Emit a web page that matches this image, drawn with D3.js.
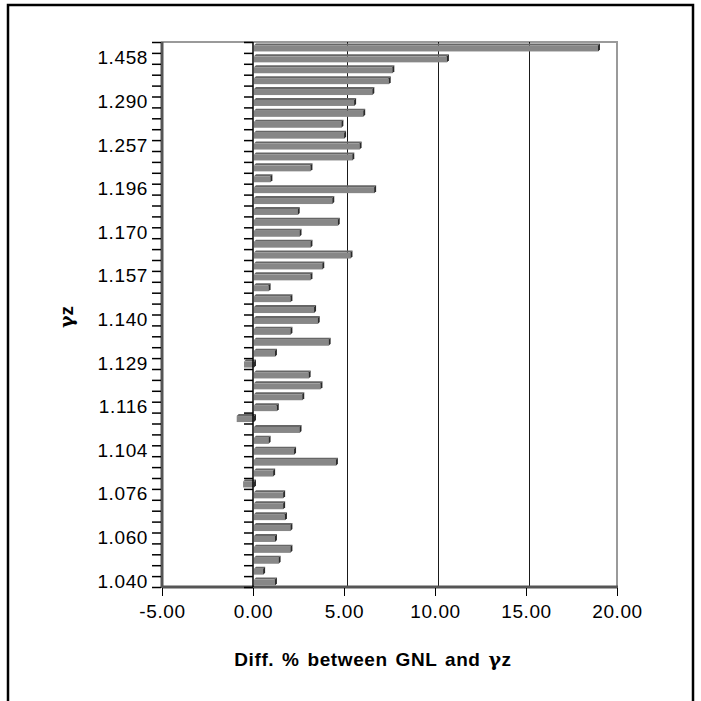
<!DOCTYPE html>
<html>
<head>
<meta charset="utf-8">
<script src="https://cdn.jsdelivr.net/npm/d3@7"></script>
<style>
  body { margin: 0; background: #fff; }
  text { font-family: "Liberation Sans", Arial, sans-serif; }
</style>
</head>
<body>
<svg id="chart"></svg>
<script>
// categories run bottom -> top, only every 4th one carries a label
const tickLabels = ["1.040", "1.060", "1.076", "1.104", "1.116", "1.129", "1.140",
  "1.157", "1.170", "1.196", "1.257", "1.290", "1.458"];
const labelEvery = 4;

// Diff. % between GNL and γz, bottom -> top
const diffValues = [1.15, 0.5, 1.35, 2.0, 1.15, 2.0, 1.7, 1.6, 1.6, -0.6,
  1.05, 4.5, 2.2, 0.8, 2.5, -0.95, 1.25, 2.65, 3.65, 3.0,
  -0.55, 1.15, 4.1, 2.0, 3.5, 3.3, 2.0, 0.8, 3.1, 3.75,
  5.3, 3.1, 2.5, 4.6, 2.4, 4.3, 6.6, 0.9, 3.1, 5.4,
  5.8, 4.95, 4.8, 6.0, 5.5, 6.5, 7.4, 7.6, 10.6, 18.9];

const xTicks = [-5, 0, 5, 10, 15, 20];

const categories = diffValues.map((v, i) => i);

// ===============================
// SETUP
// ===============================
const width = 701, height = 701;
const svg = d3.select("#chart").attr("width", width).attr("height", height);

const plot = { left: 162, right: 617, top: 42, bottom: 587 };

const x = d3.scaleLinear().domain([-5, 20]).range([plot.left, plot.right]);
const y = d3.scaleBand().domain(categories).range([plot.bottom, plot.top]);
const yEdge = d3.scaleLinear().domain([0, categories.length]).range([plot.bottom, plot.top]);

// outer frame
svg.append("rect")
  .attr("x", 8).attr("y", 5)
  .attr("width", 685).attr("height", 705)
  .attr("fill", "none")
  .attr("stroke", "#000")
  .attr("stroke-width", 2.5);

// plot area border
svg.append("rect")
  .attr("x", plot.left).attr("y", plot.top)
  .attr("width", plot.right - plot.left)
  .attr("height", plot.bottom - plot.top)
  .attr("fill", "#fff")
  .attr("stroke", "#9a9a9a")
  .attr("stroke-width", 2);

// ===============================
// GRIDLINES (back wall, shifted a bit)
// ===============================
const depth = 3;
svg.append("g")
  .selectAll("line")
  .data(xTicks.filter(d => d > 0 && d < 20))
  .join("line")
  .attr("x1", d => Math.round(x(d) + depth) + 0.5)
  .attr("x2", d => Math.round(x(d) + depth) + 0.5)
  .attr("y1", plot.top).attr("y2", plot.bottom)
  .attr("stroke", "#1a1a1a")
  .attr("stroke-width", 1)
  .attr("shape-rendering", "crispEdges");

// darker wall + floor edges
svg.append("line")
  .attr("x1", plot.left).attr("x2", plot.left)
  .attr("y1", plot.top).attr("y2", plot.bottom + 1)
  .attr("stroke", "#555").attr("stroke-width", 3);
svg.append("line")
  .attr("x1", plot.left).attr("x2", plot.right + 1)
  .attr("y1", plot.bottom).attr("y2", plot.bottom)
  .attr("stroke", "#555").attr("stroke-width", 3);

// ===============================
// BARS (flat 3D look)
// ===============================
const barH = 6;
const bars = svg.append("g");

diffValues.forEach((v, i) => {
  const cy = y(i) + y.bandwidth() / 2 + 1;
  const x0 = x(Math.min(0, v)) + 1;
  const x1 = x(Math.max(0, v)) + 1;
  const top = cy - barH / 2;

  // top face
  bars.append("polygon")
    .attr("points", [[x0, top], [x0 + 2, top - 2], [x1 + 2, top - 2], [x1, top]].join(" "))
    .attr("fill", "#666");
  // front face
  bars.append("rect")
    .attr("x", x0).attr("y", top)
    .attr("width", x1 - x0).attr("height", barH)
    .attr("fill", "#878787");
  // end face
  bars.append("polygon")
    .attr("points", [[x1, top], [x1 + 2, top - 2], [x1 + 2, top + barH - 2], [x1, top + barH]].join(" "))
    .attr("fill", "#2a2a2a");
});

// ===============================
// ZERO LINE + CATEGORY TICKS
// ===============================
svg.append("line")
  .attr("x1", x(0)).attr("x2", x(0))
  .attr("y1", plot.top).attr("y2", plot.bottom)
  .attr("stroke", "#000").attr("stroke-width", 1.5);

const zeroAxis = svg.append("g")
  .attr("transform", `translate(${x(0)},0)`)
  .call(d3.axisLeft(yEdge).tickValues(d3.range(categories.length + 1)).tickSize(9).tickFormat(""));
zeroAxis.select(".domain").remove();
zeroAxis.selectAll("line").attr("stroke", "#000").attr("stroke-width", 1.5);

const leftTicks = svg.append("g")
  .attr("transform", `translate(${plot.left - 1},0)`)
  .call(d3.axisLeft(yEdge).tickValues(d3.range(categories.length + 1)).tickSize(9).tickFormat(""));
leftTicks.select(".domain").remove();
leftTicks.selectAll("line").attr("stroke", "#000").attr("stroke-width", 1.5);

const leftLabels = svg.append("g")
  .attr("transform", `translate(${plot.left - 1},0)`)
  .call(d3.axisLeft(y)
    .tickValues(categories.filter(i => i % labelEvery === 0))
    .tickFormat(i => tickLabels[i / labelEvery])
    .tickSize(0).tickPadding(13));
leftLabels.select(".domain").remove();
leftLabels.selectAll("text")
  .attr("fill", "#000")
  .style("font-size", "19px")
  .style("font-family", "Liberation Sans, Arial, sans-serif")
  .style("letter-spacing", "0.6px");

// ===============================
// VALUE AXIS
// ===============================
const xAxis = svg.append("g")
  .attr("transform", `translate(0,${plot.bottom + 1})`)
  .call(d3.axisBottom(x).tickValues(xTicks).tickFormat(d => d.toFixed(2)).tickSize(8).tickPadding(9));
xAxis.select(".domain").remove();
xAxis.selectAll("line").attr("stroke", "#000");
xAxis.selectAll("text")
  .attr("fill", "#000")
  .style("font-size", "19px")
  .style("font-family", "Liberation Sans, Arial, sans-serif")
  .style("letter-spacing", "0.6px");

// ===============================
// AXIS TITLES
// ===============================
const xTitle = svg.append("text")
  .attr("x", 373)
  .attr("y", 666)
  .attr("text-anchor", "middle")
  .style("font-size", "19px")
  .style("font-weight", "700")
  .style("letter-spacing", "0.6px")
  .style("word-spacing", "2px");
xTitle.append("tspan").text("Diff. % between GNL and ");
xTitle.append("tspan").style("font-family", "DejaVu Serif, serif").style("font-weight", "700").text("γ");
xTitle.append("tspan").text("z");

const yTitle = svg.append("text")
  .attr("text-anchor", "middle")
  .attr("transform", "translate(73, 317) rotate(-90)")
  .style("font-size", "19px")
  .style("font-weight", "700");
yTitle.append("tspan").style("font-family", "DejaVu Serif, serif").style("font-weight", "700").text("γ");
yTitle.append("tspan").text("z");
</script>
</body>
</html>
